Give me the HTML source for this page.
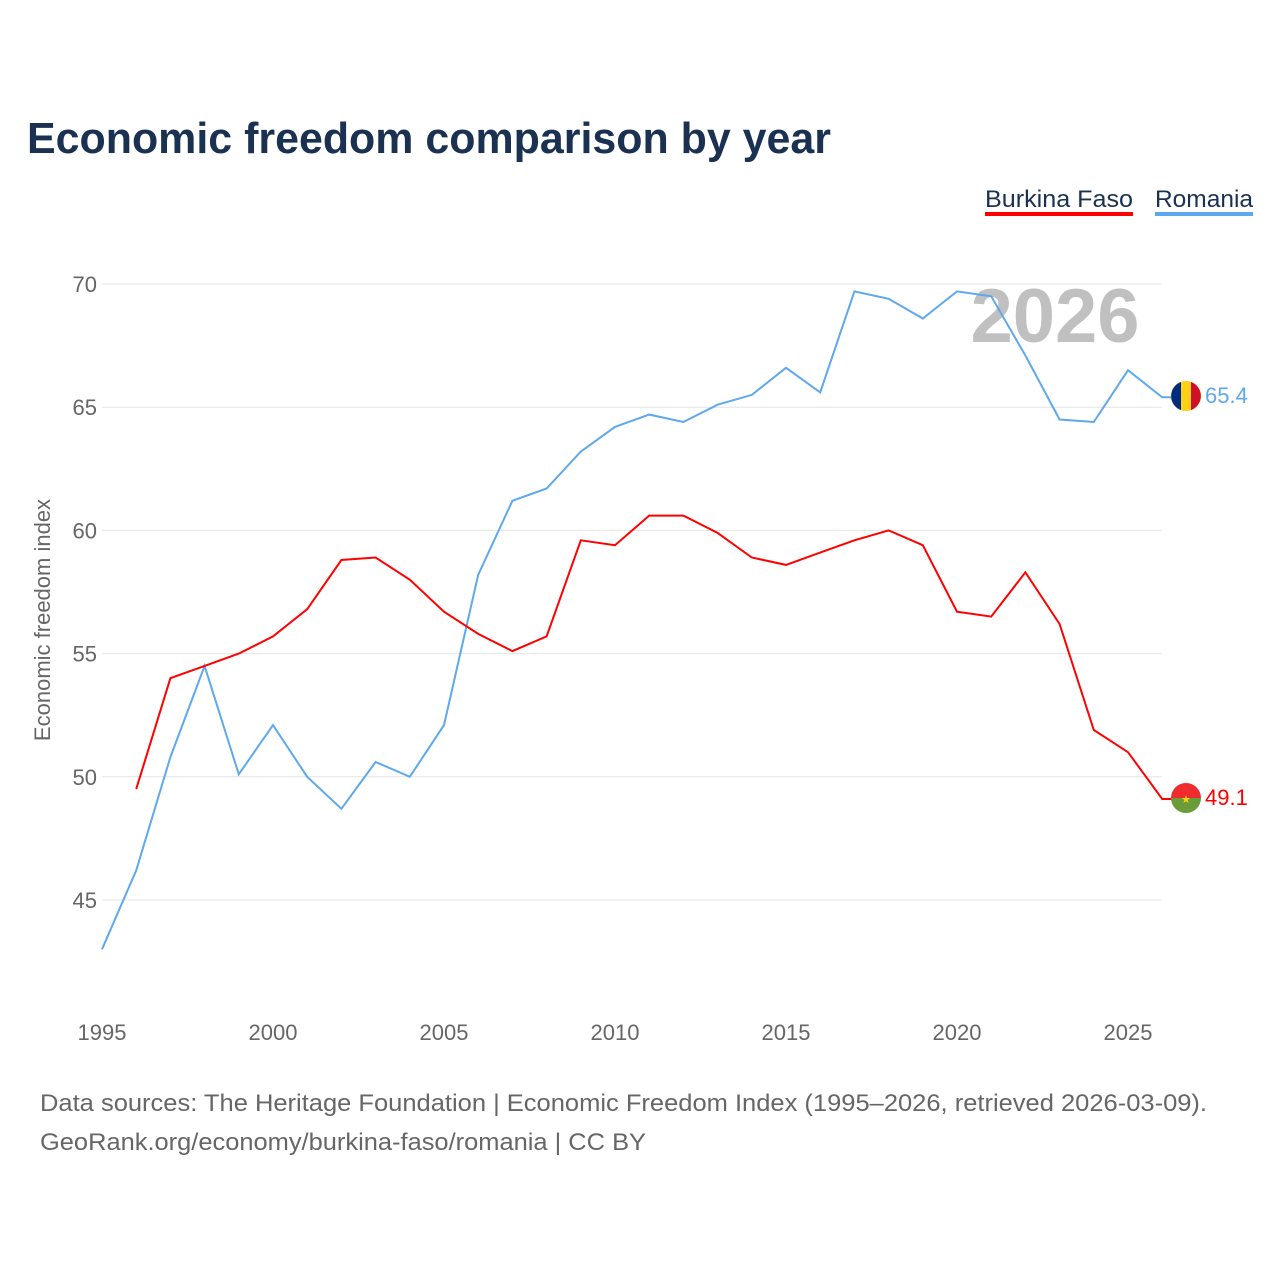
<!DOCTYPE html>
<html><head><meta charset="utf-8"><style>
body{margin:0;background:#fff;font-family:"Liberation Sans",sans-serif;}
svg text{font-family:"Liberation Sans",sans-serif;}
</style></head><body>
<svg width="1280" height="1280" viewBox="0 0 1280 1280">
<rect width="1280" height="1280" fill="#fff"/>
<text x="27" y="153" font-size="44" font-weight="bold" fill="#1b3152" textLength="804" lengthAdjust="spacingAndGlyphs">Economic freedom comparison by year</text>
<g>
<text x="985" y="207" font-size="24" fill="#1b3152" textLength="148" lengthAdjust="spacingAndGlyphs">Burkina Faso</text>
<rect x="985" y="212" width="148" height="4" fill="#ff0000"/>
<text x="1155" y="207" font-size="24" fill="#1b3152" textLength="98" lengthAdjust="spacingAndGlyphs">Romania</text>
<rect x="1155" y="212" width="98" height="4" fill="#5ea8ee"/>
</g>
<text x="1055" y="342" font-size="76" font-weight="bold" fill="#c0c0c0" text-anchor="middle">2026</text>
<g id="grid"></g>
<g id="xt"></g>
<text transform="translate(50,620) rotate(-90)" font-size="22" fill="#666" text-anchor="middle">Economic freedom index</text>
<g id="lines"></g>
<g>
<circle cx="1186" cy="396" r="15" fill="#fcd116"/>
<path d="M1181,381.9 A15,15 0 0 0 1181,410.1 Z" fill="#002b7f"/>
<path d="M1191,381.9 A15,15 0 0 1 1191,410.1 Z" fill="#ce1126"/>
<text x="1205" y="403" font-size="22" fill="#5ea8ee">65.4</text>
<path d="M1171,798 A15,15 0 0 1 1201,798 Z" fill="#ef2b2d"/>
<path d="M1171,798 A15,15 0 0 0 1201,798 Z" fill="#6a9c3a"/>
<text x="1186" y="803" font-size="11" fill="#fcd116" text-anchor="middle">★</text>
<text x="1205" y="805" font-size="22" fill="#ff0000">49.1</text>
</g>
<text x="40" y="1111" font-size="24" fill="#666" textLength="1167" lengthAdjust="spacingAndGlyphs">Data sources: The Heritage Foundation | Economic Freedom Index (1995–2026, retrieved 2026-03-09).</text>
<text x="40" y="1150" font-size="24" fill="#666" textLength="606" lengthAdjust="spacingAndGlyphs">GeoRank.org/economy/burkina-faso/romania | CC BY</text>
</svg>
<script>
const years=[1995,1996,1997,1998,1999,2000,2001,2002,2003,2004,2005,2006,2007,2008,2009,2010,2011,2012,2013,2014,2015,2016,2017,2018,2019,2020,2021,2022,2023,2024,2025,2026];
const romania=[43.0,46.2,50.8,54.5,50.1,52.1,50.0,48.7,50.6,50.0,52.1,58.2,61.2,61.7,63.2,64.2,64.7,64.4,65.1,65.5,66.6,65.6,69.7,69.4,68.6,69.7,69.5,67.1,64.5,64.4,66.5,65.4];
const burkina=[null,49.5,54.0,54.5,55.0,55.7,56.8,58.8,58.9,58.0,56.7,55.8,55.1,55.7,59.6,59.4,60.6,60.6,59.9,58.9,58.6,59.1,59.6,60.0,59.4,56.7,56.5,58.3,56.2,51.9,51.0,49.1];
const yTicks=[45,50,55,60,65,70];
const xTicks=[1995,2000,2005,2010,2015,2020,2025];
const NS="http://www.w3.org/2000/svg";
const X=y=>102+(y-1995)*34.2;
const Y=v=>284+(70-v)*24.64;
const grid=document.getElementById('grid');
yTicks.forEach(t=>{
 const l=document.createElementNS(NS,'line');
 l.setAttribute('x1',102);l.setAttribute('x2',1162);l.setAttribute('y1',Y(t));l.setAttribute('y2',Y(t));
 l.setAttribute('stroke','#e4e4e4');l.setAttribute('stroke-width','1');
 
 
 grid.appendChild(l);
 const tx=document.createElementNS(NS,'text');
 tx.setAttribute('x',97);tx.setAttribute('y',Y(t)+8);tx.setAttribute('text-anchor','end');
 tx.setAttribute('font-size','22');tx.setAttribute('fill','#666');tx.textContent=t;
 
 
 grid.appendChild(tx);
});
const xt=document.getElementById('xt');
xTicks.forEach(t=>{
 const tx=document.createElementNS(NS,'text');
 tx.setAttribute('x',X(t));tx.setAttribute('y',1040);tx.setAttribute('text-anchor','middle');
 tx.setAttribute('font-size','22');tx.setAttribute('fill','#666');tx.textContent=t;
 
 
 xt.appendChild(tx);
});
function line(vals,color,name){
 let d='';vals.forEach((v,i)=>{if(v==null)return;d+=(d?'L':'M')+X(years[i]).toFixed(1)+','+Y(v).toFixed(1);});
 d+='L1172,'+Y(vals[vals.length-1]).toFixed(1);
 const p=document.createElementNS(NS,'path');
 p.setAttribute('d',d);p.setAttribute('fill','none');p.setAttribute('stroke',color);p.setAttribute('stroke-width','2');
 
 
 document.getElementById('lines').appendChild(p);
}
line(romania,'#5ea8ee','romania-line');
line(burkina,'#ff0000','burkina-faso-line');
</script>
</body></html>
